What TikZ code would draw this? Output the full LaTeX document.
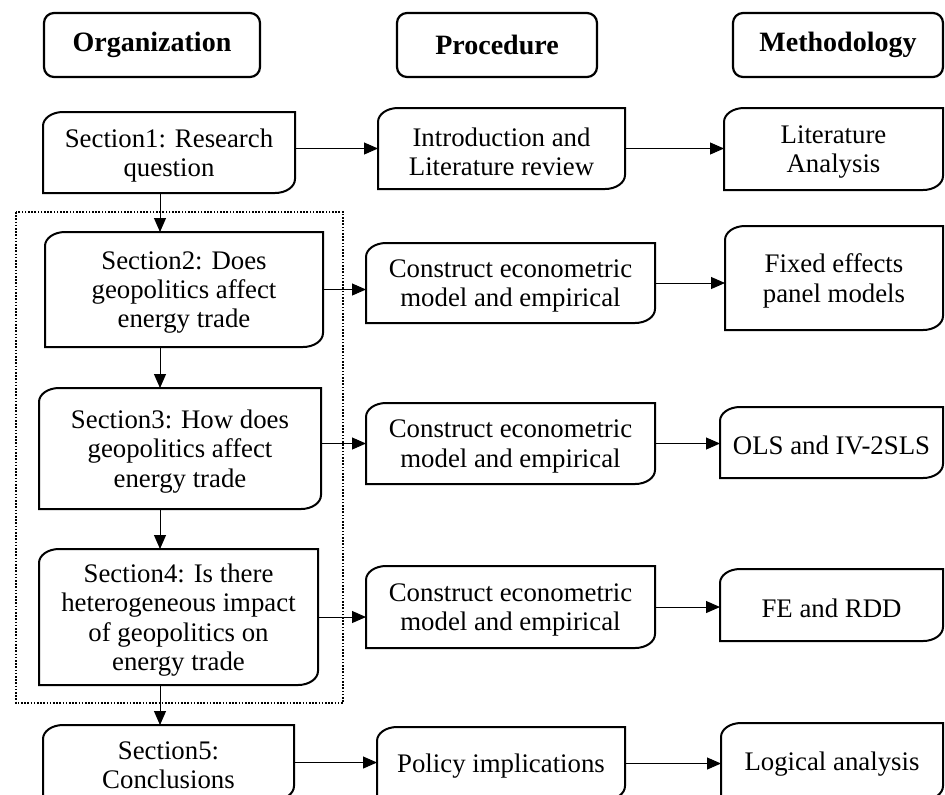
\documentclass[tikz,border=0pt]{standalone}
\usepackage{fontspec}
\setmainfont{Liberation Serif}
\usetikzlibrary{arrows.meta}
\tikzset{
  txt/.style={align=center, font=\fontsize{13.4}{14.6}\selectfont, inner sep=0pt},
  shapebox/.style={inner sep=0pt, outer sep=0pt},
  hdr/.style={draw, line width=1.1pt, rounded corners=5pt, font=\fontsize{14}{15}\selectfont\bfseries, inner sep=0pt},
  conn/.style={line width=0.5pt, -{Triangle[length=7pt,width=6pt]}},
  card/.style={line width=1pt},
  group/.style={line width=0.8pt, dash pattern=on 0.8pt off 0.8pt},
}
% name x1 y1 x2 y2 text
\newcommand\cardbox[6]{%
  \node[shapebox, minimum width={(#4-#2)*0.5pt}, minimum height={(#5-#3)*0.5pt}] (#1) at ({(#2+#4)/2},{(#3+#5)/2}) {};
  \node[txt] (#1-t) at ([yshift=-1.5pt]#1.center) {#6};
  \draw[card] ([xshift=10pt]#1.north west) -- (#1.north east) -- ([yshift=7pt]#1.south east)
     .. controls ([yshift=3.1pt]#1.south east) and ([xshift=-4.5pt]#1.south east) .. ([xshift=-10pt]#1.south east)
     -- (#1.south west) -- ([yshift=-7pt]#1.north west)
     .. controls ([yshift=-3.1pt]#1.north west) and ([xshift=4.5pt]#1.north west) .. cycle;
}
\begin{document}
\begin{tikzpicture}[x=0.5pt,y=-0.5pt]
\path[use as bounding box] (0,0) rectangle (945,794);
\clip (0,0) rectangle (945,794);
% headers
\node[hdr, minimum width=108pt, minimum height=32pt] (org) at (152,45) {Organization};
\node[hdr, minimum width=100pt, minimum height=32pt] (proc) at (497,45) {Procedure};
\node[hdr, minimum width=105pt, minimum height=32pt] (meth) at (838,45) {Methodology};
% group
\draw[group] (16,212) rectangle (343,703);
% left column
\cardbox{s1}{43}{112}{295}{193}{Section1: Research\\question}
\cardbox{s2}{45}{232}{323}{347}{Section2: Does\\geopolitics affect\\energy trade}
\cardbox{s3}{39}{388}{321}{509}{Section3: How does\\geopolitics affect\\energy trade}
\cardbox{s4}{39}{549}{318}{685}{Section4: Is there\\heterogeneous impact\\of geopolitics on\\energy trade}
\cardbox{s5}{43}{725}{294}{800}{Section5:\\Conclusions}
% middle column
\cardbox{intro}{378}{108}{625}{189}{Introduction and\\Literature review}
\cardbox{c1}{366}{243}{655}{323}{Construct econometric\\model and empirical}
\cardbox{c2}{366}{403}{655}{484}{Construct econometric\\model and empirical}
\cardbox{c3}{366}{566}{655}{648}{Construct econometric\\model and empirical}
\cardbox{pol}{377}{727}{625}{800}{Policy implications}
% right column
\cardbox{lit}{724}{108}{943}{190}{Literature\\Analysis}
\cardbox{fix}{725}{226}{943}{330}{Fixed effects\\panel models}
\cardbox{ols}{720}{407}{943}{478}{OLS and IV-2SLS}
\cardbox{fe}{720}{569}{943}{641}{FE and RDD}
\cardbox{logic}{721}{723}{943}{800}{Logical analysis}
% vertical connectors
\coordinate (vx) at (160,0);
\draw[conn] (s1.south -| vx) -- (s2.north -| vx);
\draw[conn] (s2.south -| vx) -- (s3.north -| vx);
\draw[conn] (s3.south -| vx) -- (s4.north -| vx);
\draw[conn] (s4.south -| vx) -- (s5.north -| vx);
% horizontal connectors
\draw[conn] (s1.east |- intro.west) -- (intro.west);
\draw[conn] (s2.east) -- (s2.east -| c1.west);
\draw[conn] (s3.east |- c2.west) -- (c2.west);
\draw[conn] (s4.east) -- (s4.east -| c3.west);
\draw[conn] (s5.east) -- (s5.east -| pol.west);
\draw[conn] (intro.east) -- (intro.east -| lit.west);
\draw[conn] (c1.east) -- (c1.east -| fix.west);
\draw[conn] (c2.east) -- (c2.east -| ols.west);
\draw[conn] (c3.east) -- (c3.east -| fe.west);
\draw[conn] (pol.east) -- (pol.east -| logic.west);
\end{tikzpicture}
\end{document}
